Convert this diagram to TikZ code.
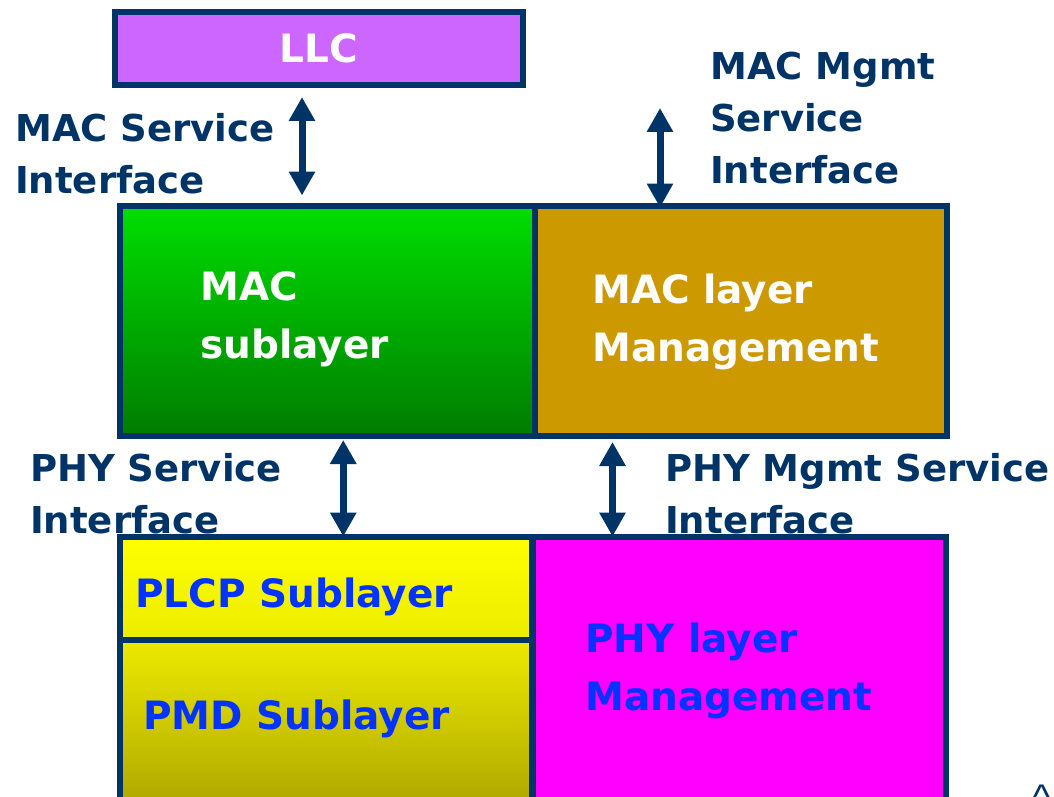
\documentclass[tikz,border=0pt]{standalone}
\usepackage{fontspec}
\setmainfont{DejaVu Sans}
\newfontfamily\caretfont{Liberation Sans}
\usepackage{xcolor}
\definecolor{colornavy}{RGB}{0,51,102}
\definecolor{colorllc}{RGB}{204,102,255}
\definecolor{colormactop}{RGB}{0,222,0}
\definecolor{colormacbot}{RGB}{0,124,0}
\definecolor{colorgold}{RGB}{204,153,0}
\definecolor{colorplcptop}{RGB}{255,255,0}
\definecolor{colorplcpbot}{RGB}{236,236,0}
\definecolor{colorpmdtop}{RGB}{236,234,0}
\definecolor{colorpmdbot}{RGB}{166,158,0}
\definecolor{colorphy}{RGB}{255,0,255}
\definecolor{colorblue}{RGB}{0,51,255}
\usepackage{tikz}
\usetikzlibrary{arrows.meta}

\begin{document}
\begin{tikzpicture}[x=1pt,y=-1pt,
  layer/.style={draw=colornavy,line width=6pt,outer sep=0pt,inner sep=0pt,anchor=north west},
  lbl/.style={anchor=base west,inner sep=0pt,align=left,text=colornavy,font=\bfseries\fontsize{37}{52}\selectfont},
  inlbl/.style={lbl,font=\bfseries\fontsize{39}{58}\selectfont},
  link/.style={{Triangle[width=25pt,length=24pt]}-{Triangle[width=25pt,length=24pt]},line width=7pt,draw=colornavy}]
  \clip (0,0) rectangle (1054,797);

  % the layers
  \node[layer,fill=colorllc,minimum width=408pt,minimum height=73pt,text=white,
    font=\bfseries\fontsize{39}{39}\selectfont] (llc) at (115,12) {LLC};
  \node[layer,top color=colormactop,bottom color=colormacbot,
    minimum width=414.5pt,minimum height=230.5pt] (mac) at (120,205.5) {};
  \node[layer,fill=colorgold,minimum width=412pt,minimum height=230.5pt] (macmgmt) at (534.5,205.5) {};
  \node[layer,top color=colorplcptop,bottom color=colorplcpbot,
    minimum width=412pt,minimum height=103.5pt] (plcp) at (120,536.5) {};
  \node[layer,top color=colorpmdtop,bottom color=colorpmdbot,
    minimum width=412pt,minimum height=190pt] (pmd) at (120,640) {};
  \node[layer,fill=colorphy,minimum width=413pt,minimum height=293.5pt] (phymgmt) at (533,536.5) {};

  % texts in the layers (at the baseline of the last line)
  \node[inlbl,text=white] (macname) at (200,358) {MAC\\sublayer};
  \node[inlbl,text=white] (macmgmtname) at (592,361) {MAC layer\\Management};
  \node[inlbl,text=colorblue] (plcpname) at (135,607) {PLCP Sublayer};
  \node[inlbl,text=colorblue] (pmdname) at (143,729) {PMD Sublayer};
  \node[inlbl,text=colorblue] (phymgmtname) at (585,710) {PHY layer\\Management};

  % interfaces
  \node[lbl] (macsap) at (15,193) {MAC Service\\Interface};
  \node[lbl] (macmgmtsap) at (710,183) {MAC Mgmt\\Service\\Interface};
  \node[lbl] (physap) at (30,533) {PHY Service\\Interface};
  \node[lbl] (phymgmtsap) at (665,533) {PHY Mgmt Service\\Interface};

  \coordinate (mgmttop) at (660,108);
  \draw[link,shorten <=12pt,shorten >=10pt] ([xshift=-17pt]llc.south) -- ([xshift=-17pt]llc.south |- mac.north);
  \draw[link,shorten >=-2pt] (mgmttop) -- (mgmttop |- macmgmt.north);
  \draw[link,shorten <=4pt] ([xshift=16pt]mac.south) -- ([xshift=16pt]mac.south |- plcp.north);
  \draw[link,shorten <=6pt] ([xshift=-128pt]macmgmt.south) -- ([xshift=-128pt]macmgmt.south |- phymgmt.north);

  \node[anchor=base,inner sep=0pt,text=colornavy,font=\caretfont\fontsize{40}{40}\selectfont] (caret) at (1042,812) {\^{}};
\end{tikzpicture}
\end{document}
